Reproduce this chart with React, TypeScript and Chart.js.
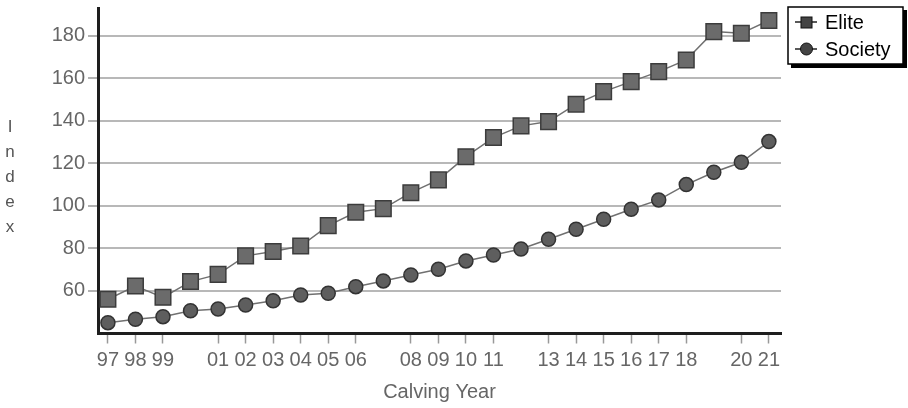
import React, { useEffect, useRef } from "react";
import { Chart, registerables } from "chart.js";
Chart.register(...registerables);

const years = [1997, 1998, 1999, 2000, 2001, 2002, 2003, 2004, 2005, 2006, 2007, 2008, 2009, 2010, 2011, 2012, 2013, 2014, 2015, 2016, 2017, 2018, 2019, 2020, 2021];
const tickYears = [1997, 1998, 1999, 2001, 2002, 2003, 2004, 2005, 2006, 2008, 2009, 2010, 2011, 2013, 2014, 2015, 2016, 2017, 2018, 2020, 2021];
const yTicks = [60, 80, 100, 120, 140, 160, 180];
const elite = [56.1, 62.3, 57.0, 64.4, 67.8, 76.5, 78.5, 81.1, 90.7, 97.0, 98.7, 106.2, 112.2, 123.1, 132.1, 137.6, 139.6, 147.8, 153.7, 158.4, 163.1, 168.6, 181.9, 181.1, 187.1];
const society = [45.1, 46.7, 47.9, 50.7, 51.5, 53.4, 55.4, 58.1, 58.9, 62.0, 64.7, 67.5, 70.2, 74.1, 76.9, 79.7, 84.3, 89.0, 93.7, 98.4, 102.8, 110.0, 115.8, 120.5, 130.2];
const seriesNames = ["Elite", "Society"];
const yTitle = "Index";
const xTitle = "Calving Year";

const FONT = '"Liberation Sans", Arial, sans-serif';

const extrasPlugin = {
  id: "extras",
  afterDraw(chart: any) {
    const ctx = chart.ctx as CanvasRenderingContext2D;
    ctx.save();
    ctx.fillStyle = "#555";
    ctx.font = `17px ${FONT}`;
    ctx.textAlign = "center";
    ctx.textBaseline = "middle";
    const letters = yTitle.split("");
    letters.forEach((ch, i) => {
      ctx.fillText(ch, 10, 127 + i * 25);
    });
    const bx = 788, by = 7, bw = 115, bh = 57;
    ctx.fillStyle = "#000";
    ctx.fillRect(bx + 3, by + 3, bw + 1, bh + 1);
    ctx.fillStyle = "#fff";
    ctx.fillRect(bx, by, bw, bh);
    ctx.strokeStyle = "#000";
    ctx.lineWidth = 1.5;
    ctx.strokeRect(bx, by, bw, bh);
    const rows = [22, 49];
    seriesNames.forEach((name, i) => {
      const y = rows[i];
      ctx.strokeStyle = "#222";
      ctx.lineWidth = 1.5;
      ctx.beginPath();
      ctx.moveTo(795, y);
      ctx.lineTo(817, y);
      ctx.stroke();
      ctx.fillStyle = "#444";
      ctx.strokeStyle = "#111";
      ctx.lineWidth = 1;
      if (i === 0) {
        ctx.fillRect(801, y - 5, 11, 11);
        ctx.strokeRect(801, y - 5, 11, 11);
      } else {
        ctx.beginPath();
        ctx.arc(806.5, y, 6, 0, Math.PI * 2);
        ctx.fill();
        ctx.stroke();
      }
      ctx.fillStyle = "#000";
      ctx.font = `20px ${FONT}`;
      ctx.textAlign = "left";
      ctx.textBaseline = "middle";
      ctx.fillText(name, 825, y + 1);
    });
    ctx.restore();
  },
};

export default function App() {
  const ref = useRef<HTMLCanvasElement | null>(null);
  useEffect(() => {
    if (!ref.current) return;
    const chart = new Chart(ref.current, {
      type: "line",
      data: {
        datasets: [
          {
            label: seriesNames[0],
            data: years.map((x, i) => ({ x, y: elite[i] })),
            borderColor: "#707070",
            borderWidth: 1.5,
            pointStyle: "rect",
            pointRadius: 11,
            pointBorderWidth: 1.5,
            pointBackgroundColor: "#6b6b6b",
            pointBorderColor: "#3c3c3c",
            clip: false,
          },
          {
            label: seriesNames[1],
            data: years.map((x, i) => ({ x, y: society[i] })),
            borderColor: "#707070",
            borderWidth: 1.5,
            pointStyle: "circle",
            pointRadius: 7,
            pointBorderWidth: 1.5,
            pointBackgroundColor: "#5e5e5e",
            pointBorderColor: "#333",
            clip: false,
          },
        ],
      },
      options: {
        responsive: false,
        animation: false,
        layout: { autoPadding: false, padding: { top: 8, right: 127, left: 0, bottom: 0 } },
        plugins: { legend: { display: false }, tooltip: { enabled: false } },
        scales: {
          x: {
            type: "linear",
            min: 1996.64,
            max: 2021.44,
            afterBuildTicks: (s: any) => {
              s.ticks = tickYears.map((v) => ({ value: v }));
            },
            afterFit: (s: any) => {
              s.height = 74.5;
              s.paddingLeft = 0;
              s.paddingRight = 0;
            },
            ticks: {
              autoSkip: false,
              maxRotation: 0,
              padding: 5,
              color: "#666",
              font: { family: FONT, size: 20 },
              callback: (v: any) => String(Number(v) % 100).padStart(2, "0"),
            },
            grid: {
              drawOnChartArea: false,
              drawTicks: true,
              tickLength: 10,
              tickColor: "#999",
              tickWidth: 1.5,
            },
            border: { display: true, color: "#1e1e1e", width: 3 },
            title: {
              display: true,
              text: xTitle,
              color: "#666",
              font: { family: FONT, size: 20 },
              padding: { top: 0, bottom: 4 },
            },
          },
          y: {
            type: "linear",
            min: 40,
            max: 193,
            afterBuildTicks: (s: any) => {
              s.ticks = yTicks.map((v) => ({ value: v }));
            },
            afterFit: (s: any) => {
              s.width = 98;
              s.paddingTop = 0;
              s.paddingBottom = 0;
            },
            ticks: {
              padding: 3,
              color: "#666",
              font: { family: FONT, size: 20 },
            },
            grid: {
              color: "#b8b8b8",
              lineWidth: 2,
              tickLength: 10,
              tickColor: "#999",
              tickWidth: 1.5,
            },
            border: { display: true, color: "#1e1e1e", width: 3 },
          },
        },
      },
      plugins: [extrasPlugin],
    } as any);
    return () => chart.destroy();
  }, []);
  return (
    <div style={{ position: "fixed", left: 0, top: 0, width: 908, height: 408, background: "#fff" }}>
      <canvas ref={ref} width={908} height={408} />
    </div>
  );
}
